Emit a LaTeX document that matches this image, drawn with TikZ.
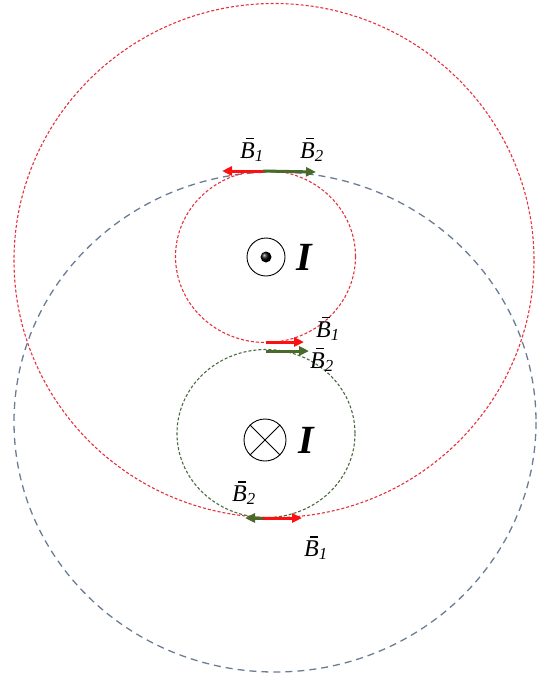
\documentclass[tikz,border=0pt]{standalone}
\usepackage{fontspec}
\setmainfont{Liberation Serif}
\usetikzlibrary{arrows.meta}
\definecolor{fieldred}{HTML}{E8303C}
\definecolor{fieldblue}{HTML}{6A7C96}
\definecolor{fieldgreen}{HTML}{4A6A40}
\definecolor{vecred}{HTML}{FF1010}
\definecolor{vecgreen}{HTML}{4A6A2A}
\newcommand{\Bvec}[1]{\textit{\makebox[0pt][l]{\hspace{0.26em}\raisebox{0.78em}{\rule{0.3em}{0.06em}}}B}\textsubscript{\textit{#1}}}
\tikzset{
  redline/.style={draw=fieldred, line width=1.1pt, dash pattern=on 3pt off 2pt},
  blueline/.style={draw=fieldblue, line width=1.3pt, dash pattern=on 7pt off 5pt},
  greenline/.style={draw=fieldgreen, line width=1.1pt, dash pattern=on 3pt off 2pt},
  redvec/.style={-{Triangle[length=10pt,width=9pt]}, line width=3pt, vecred},
  greenvec/.style={-{Triangle[length=10pt,width=9pt]}, line width=3pt, vecgreen},
  blabel/.style={font=\fontsize{24}{24}\selectfont, inner sep=0pt},
  ilabel/.style={font=\fontsize{40}{40}\selectfont\bfseries\itshape, inner sep=0pt},
  wire/.style={circle, draw=black, line width=0.9pt, inner sep=0pt},
}
\begin{document}
\begin{tikzpicture}[x=1pt, y=-1pt]
  \useasboundingbox (0,0) rectangle (549,680);

  %% field lines
  \draw[redline] (274,260.5) ellipse [x radius=260, y radius=257];
  \draw[blueline] (275,422) ellipse [x radius=261, y radius=250];
  \draw[redline] (265.5,256.5) ellipse [x radius=90, y radius=86];
  \draw[greenline] (266,433.5) ellipse [x radius=89, y radius=84];

  %% wires
  \node[wire, minimum size=38pt] (wup) at (266,257) {};
  \shade[ball color=black] (wup.center) circle (5.5pt);
  \node[ilabel] (iup) at (304,257) {I};

  \node[wire, minimum size=42pt] (wdown) at (265,440) {};
  \draw[line width=0.9pt] (wdown.north east) -- (wdown.south west)
                        (wdown.north west) -- (wdown.south east);
  \node[ilabel] (idown) at (306,440) {I};

  %% vectors at top
  \coordinate (ta) at (263,171);
  \coordinate (tb) at (222,171);
  \coordinate (tc) at (316,172);
  \draw[redvec] (ta) -- (tb);
  \draw[greenvec] (ta) -- (tc);
  \node[blabel] (tb1) at (252,150) {\Bvec{1}};
  \node[blabel] (tb2) at (312,150) {\Bvec{2}};

  %% vectors in the middle
  \coordinate (ma) at (266,342);
  \coordinate (mb) at (304,342);
  \coordinate (mc) at (266,351);
  \coordinate (md) at (309,351);
  \draw[redvec] (ma) -- (mb);
  \draw[greenvec] (mc) -- (md);
  \node[blabel] (mb1) at (328,329) {\Bvec{1}};
  \node[blabel] (mb2) at (322,360) {\Bvec{2}};

  %% vectors at bottom
  \coordinate (ba) at (277,518);
  \coordinate (bb) at (245,518);
  \coordinate (bc) at (263,518);
  \coordinate (bd) at (302,518);
  \draw[greenvec] (ba) -- (bb);
  \draw[redvec] (bc) -- (bd);
  \node[blabel] (bb2) at (244,493) {\Bvec{2}};
  \node[blabel] (bb1) at (316,548) {\Bvec{1}};
\end{tikzpicture}
\end{document}
